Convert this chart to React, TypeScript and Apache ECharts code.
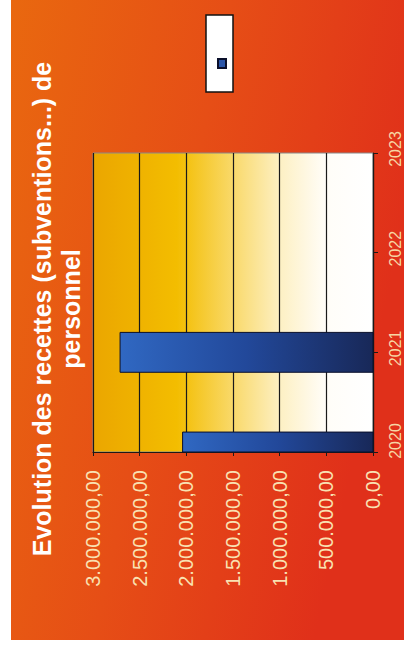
import React, { useEffect, useRef } from "react";
import * as echarts from "echarts";

const categories = ["2020", "2021", "2022", "2023"];
const recettes: (number | null)[] = [2040000, 2710000, null, null];
const valueTicks = [0, 500000, 1000000, 1500000, 2000000, 2500000, 3000000];
const seriesName = "Recettes";
const titleLines = ["Evolution des recettes (subventions...) de", "personnel"];

const fmt = (v: number) => {
  const s = Math.round(v).toString().replace(/\B(?=(\d{3})+(?!\d))/g, ".");
  return s + ",00";
};

const barFill = () =>
  new echarts.graphic.LinearGradient(0, 0, 1, 0, [
    { offset: 0, color: "#3068c2" },
    { offset: 0.5, color: "#22489a" },
    { offset: 1, color: "#182858" },
  ]);

const catFont = {
  color: "#f6d6a4",
  fontSize: 16,
  fontFamily: '"Liberation Sans", Arial, sans-serif',
};

export default function App() {
  const ref = useRef<HTMLDivElement>(null);
  useEffect(() => {
    document.body.style.margin = "0";
    const chart = echarts.init(ref.current!, undefined, { renderer: "svg" });
    const seriesData = recettes
      .map((v, i) => (v == null ? null : [v, i]))
      .filter((d) => d !== null);
    chart.setOption({
      animation: false,
      backgroundColor: "#ffffff",
      graphic: [
        {
          type: "rect",
          z: -10,
          silent: true,
          shape: { x: 11, y: 0, width: 393, height: 640 },
          style: {
            fill: new echarts.graphic.LinearGradient(0, 0, 1, 0.35, [
              { offset: 0, color: "#e9680f" },
              { offset: 0.5, color: "#e64e16" },
              { offset: 1, color: "#e0301a" },
            ]),
          },
        },
        {
          type: "text",
          x: 56,
          y: 309,
          rotation: Math.PI / 2,
          style: {
            text: titleLines.join("\n"),
            fill: "#ffffff",
            font: 'bold 25px "Liberation Sans", Arial, sans-serif',
            align: "center",
            verticalAlign: "middle",
            lineHeight: 29,
          },
        },
      ],
      legend: {
        left: 206,
        top: 15,
        orient: "vertical",
        data: [seriesName],
        icon: "rect",
        itemWidth: 8,
        itemHeight: 9,
        formatter: () => "",
        backgroundColor: "#ffffff",
        borderColor: "#111111",
        borderWidth: 1.5,
        padding: [43, 6, 23, 11],
        selectedMode: false,
      },
      grid: {
        left: 93,
        right: 31,
        top: 153,
        bottom: 199,
        show: true,
        borderColor: "#8a8a8a",
        borderWidth: 1,
        backgroundColor: new echarts.graphic.LinearGradient(0, 0, 1, 0, [
          { offset: 0, color: "#eba600" },
          { offset: 0.3, color: "#f3bd00" },
          { offset: 0.5, color: "#f9d96a" },
          { offset: 0.67, color: "#fdf0c4" },
          { offset: 0.83, color: "#fffdf8" },
          { offset: 1, color: "#ffffff" },
        ]),
      },
      xAxis: {
        type: "value",
        inverse: true,
        min: valueTicks[0],
        max: valueTicks[valueTicks.length - 1],
        interval: valueTicks[1] - valueTicks[0],
        position: "bottom",
        axisLine: { show: true, lineStyle: { color: "#1a1a1a", width: 1.2 } },
        axisTick: { show: true, length: 4, lineStyle: { color: "#1a1a1a" } },
        splitLine: { show: true, lineStyle: { color: "#1a1a1a", width: 1.2 } },
        axisLabel: {
          rotate: 90,
          margin: 18,
          formatter: (v: number) => fmt(v),
          color: "#f9e2b2",
          fontSize: 20,
          fontFamily: '"Liberation Sans", Arial, sans-serif',
        },
      },
      yAxis: {
        type: "category",
        data: categories,
        position: "right",
        boundaryGap: false,
        axisLine: { show: true, lineStyle: { color: "#1a1a1a", width: 1.2 } },
        axisTick: { show: true, length: 5, interval: 0, lineStyle: { color: "#1a1a1a" } },
        splitLine: { show: false },
        axisLabel: {
          rotate: 90,
          margin: 14,
          interval: 0,
          hideOverlap: false,
          ...catFont,
          formatter: (v: string, i: number) => (i === 0 ? `{first|${v}}` : `{other|${v}}`),
          rich: {
            first: { ...catFont, padding: [0, 0, 0, 22] },
            other: { ...catFont, padding: [0, 0, 0, 8] },
          },
        },
      },
      series: [
        {
          name: seriesName,
          type: "custom",
          encode: { x: 0, y: 1 },
          data: seriesData,
          itemStyle: {
            color: "#2a55a8",
            borderColor: "#0a0f2a",
            borderWidth: 1,
          },
          renderItem: (params: any, api: any) => {
            const val = api.value(0);
            const cat = api.value(1);
            const start = api.coord([0, cat]);
            const end = api.coord([val, cat]);
            const h = api.size([0, 1])[1] * 0.4;
            const rect = {
              x: Math.min(start[0], end[0]),
              y: start[1] - h / 2,
              width: Math.abs(end[0] - start[0]),
              height: h,
            };
            const cs = params.coordSys;
            const clipped = echarts.graphic.clipRectByRect(rect, {
              x: cs.x,
              y: cs.y,
              width: cs.width,
              height: cs.height,
            });
            if (!clipped) return null;
            return {
              type: "rect",
              shape: clipped,
              style: {
                fill: barFill(),
                stroke: "#0a0f2a",
                lineWidth: 1,
              },
            };
          },
        },
      ],
    });
    return () => chart.dispose();
  }, []);
  return <div ref={ref} style={{ width: 404, height: 651 }} />;
}
